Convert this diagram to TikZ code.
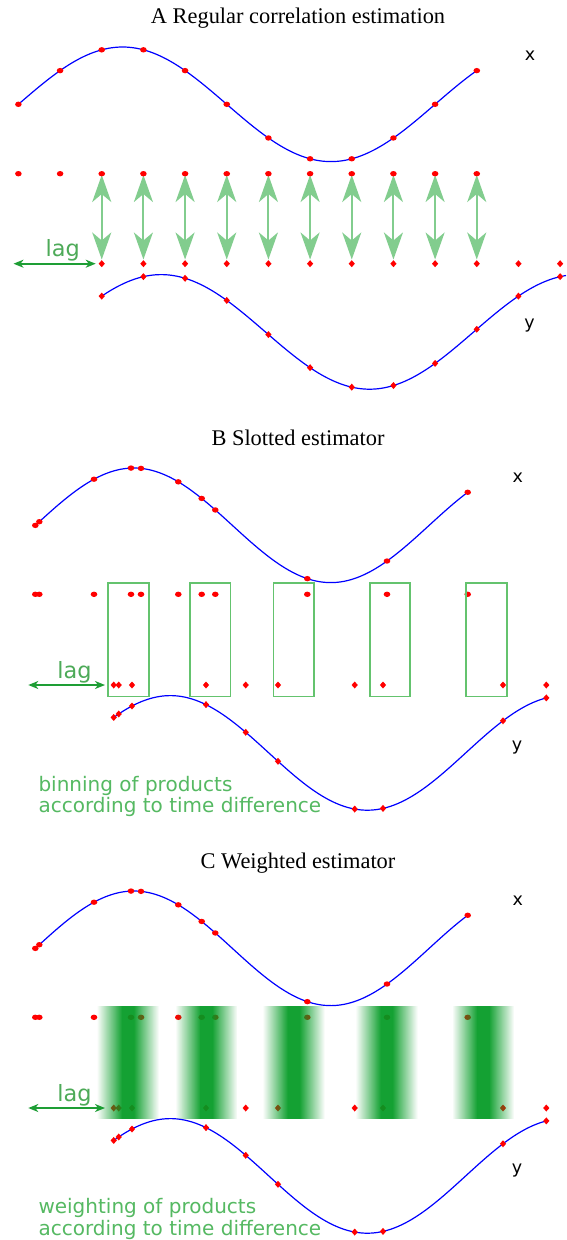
\documentclass[tikz,border=0pt]{standalone}
\usepackage{fontspec}
\setmainfont{Liberation Serif}
\setsansfont{DejaVu Sans}
\usetikzlibrary{arrows.meta,fadings}
\definecolor{wave}{HTML}{0000FF}
\definecolor{sample}{HTML}{FF0000}
\definecolor{pair}{HTML}{82CD8E}
\definecolor{lagarrow}{HTML}{1E9E35}
\definecolor{lagtext}{HTML}{4DAA58}
\definecolor{slot}{HTML}{64C36E}
\definecolor{note}{HTML}{55B962}
\definecolor{weight}{HTML}{009A22}
\tikzfading[name=fade in,left color=transparent!100,right color=transparent!0]
\tikzfading[name=fade out,left color=transparent!0,right color=transparent!100]
\tikzset{
  wavecurve/.style={draw=wave,line width=1.2pt},
  pairarrow/.style={{Stealth[length=27pt,width=19pt,inset=8pt]}-{Stealth[length=27pt,width=19pt,inset=8pt]},draw=pair,line width=2pt},
  lagarr/.style={{Stealth[length=10pt,width=8pt,inset=3pt]}-{Stealth[length=10pt,width=8pt,inset=3pt]},draw=lagarrow,line width=1.6pt},
  title/.style={font=\fontsize{22.4}{26}\selectfont,anchor=base,inner sep=0pt},
  axislabel/.style={font=\sffamily\fontsize{17.5}{20}\selectfont,anchor=base,inner sep=0pt},
  laglabel/.style={font=\sffamily\fontsize{22.4}{26}\selectfont,text=lagtext,anchor=base,inner sep=0pt},
  notetext/.style={font=\sffamily\fontsize{20}{21.7}\selectfont,text=note,align=left,anchor=base west,inner sep=0pt},
  slotbox/.style={draw=slot,line width=1.6pt},
  stripe/.style={fill=weight,fill opacity=0.92},
}
% sampled signals, pixel frame (phase factors 360/416.7 and 360/393.8)
\pgfmathdeclarefunction{xwavea}{1}{\pgfmathparse{104.3-57.3*sin(0.86393*(#1-18.4))}}
\pgfmathdeclarefunction{ywavea}{1}{\pgfmathparse{331.9-57.3*sin(0.86393*(#1-57))}}
\pgfmathdeclarefunction{xwaveb}{1}{\pgfmathparse{525.3-57.3*sin(0.91417*(#1-35.4))}}
\pgfmathdeclarefunction{ywaveb}{1}{\pgfmathparse{752.9-57.3*sin(0.91417*(#1-71.9))}}
\newcommand{\xdot}[2]{\fill[sample] ({#1},{#2}) ellipse [x radius=3.3pt,y radius=2.7pt];}
\newcommand{\ydot}[2]{\fill[sample] ({#1},{#2}) ++(-3.1pt,0) -- ++(3.1pt,3.5pt) -- ++(3.1pt,-3.5pt) -- ++(-3.1pt,-3.5pt) -- cycle;}

\begin{document}
\begin{tikzpicture}[x=1pt,y=-1pt]
\path[fill=white] (0,0) rectangle (558,1240);

% A regular sampling
\node[title] (titleA) at (298,23) {A Regular correlation estimation};
\draw[wavecurve] plot[domain=18.4:476.7,samples=90,smooth] (\x,{xwavea(\x)});
\draw[wavecurve] plot[domain=101.7:566,samples=100,smooth] (\x,{ywavea(\x)});
\foreach \k in {2,...,11} {
  \pgfmathsetmacro{\t}{18.4+41.67*\k}
  \draw[pairarrow] (\t,175) -- (\t,259.5);
}
\foreach \k in {0,...,11} {
  \pgfmathsetmacro{\t}{18.4+41.67*\k}
  \xdot{\t}{xwavea(\t)}
  \xdot{\t}{173.7}
}
\foreach \k in {2,...,13} {
  \pgfmathsetmacro{\t}{18.4+41.67*\k}
  \ydot{\t}{ywavea(\t)}
  \ydot{\t}{263.7}
}
\draw[lagarr] (13.5,263.7) -- (95.7,263.7);
\node[laglabel] (lagA) at (62.8,256.7) {lag};
\node[axislabel] (xlabA) at (530,60.7) {x};
\node[axislabel] (ylabA) at (529.5,328.3) {y};

% B and C share the irregular samples
\foreach \dy/\p in {0/B,423/C} {
  \begin{scope}[shift={(0,\dy)}]
    \draw[wavecurve] plot[domain=35.3:467.7,samples=90,smooth] (\x,{xwaveb(\x)});
    \draw[wavecurve] plot[domain=113.7:546.3,samples=90,smooth] (\x,{ywaveb(\x)});
    \foreach \s in {35.3,39.3,94,131,141,178.3,201.7,215.3,307.3,387,467.7} {
      \xdot{\s}{xwaveb(\s)}
      \xdot{\s}{594.3}
    }
    \foreach \s in {113.7,118.7,132,206,245.7,278,354.7,383,503,546.3} {
      \ydot{\s}{ywaveb(\s)}
      \ydot{\s}{685}
    }
    \draw[lagarr] (28.3,685) -- (105,685);
    \node[laglabel] (lag\p) at (74.5,678.7) {lag};
    \node[axislabel] (xlab\p) at (517.7,482.3) {x};
    \node[axislabel] (ylab\p) at (517,750) {y};
  \end{scope}
}

% B slots
\node[title] (titleB) at (298,445.7) {B Slotted estimator};
\foreach \a/\b in {108/149,189.7/230.3,273.3/313.7,369.7/410,466/506.7}
  \draw[slotbox] (\a,582.7) rectangle (\b,696.3);
\node[notetext] (noteB) at (38.3,812.7) {binning of products\\according to time difference};

% C weights
\node[title] (titleC) at (298,868) {C Weighted estimator};
\foreach \c in {127.8,206.3,293.6,386.5,483} {
  \fill[stripe,path fading=fade in] ({\c-31},1005.7) rectangle ({\c-6},1119.3);
  \fill[stripe] ({\c-6},1005.7) rectangle ({\c+6},1119.3);
  \fill[stripe,path fading=fade out] ({\c+6},1005.7) rectangle ({\c+31},1119.3);
}
\node[notetext] (noteC) at (38.3,1235) {weighting of products\\according to time difference};

\end{tikzpicture}
\end{document}
